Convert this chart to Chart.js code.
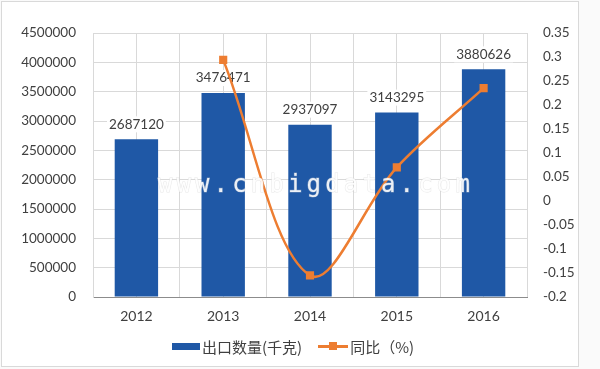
<!DOCTYPE html>
<html lang="zh">
<head>
  <meta charset="UTF-8">
  <title>出口数量及同比</title>
  <script src="https://cdn.jsdelivr.net/npm/chart.js"></script>
  <style>
    body {
      margin: 0;
      padding: 0;
      background-color: #fafafa;
    }
    .wrap {
      position: relative;
      width: 600px;
      height: 369px;
    }
    .frame {
      position: absolute;
      left: 1px;
      top: 1px;
      width: 576px;
      height: 364px;
      border: 1px solid #d9d9d9;
      background: #fff;
    }
    canvas {
      position: absolute;
      left: 0;
      top: 0;
    }
    /* legend under the plot */
    .legend {
      position: absolute;
      top: 336px;
      left: 172px;
      display: flex;
      align-items: center;
      font-family: "Noto Sans CJK SC", sans-serif;
      font-size: 15px;
      color: #404040;
      height: 20px;
    }
    .swatch-bar {
      width: 28px;
      height: 7px;
      background: #1f58a6;
      margin-right: 2px;
    }
    .swatch-line {
      position: relative;
      width: 30px;
      height: 3px;
      background: #ed7d31;
      margin-left: 16px;
      margin-right: 2px;
    }
    .swatch-line span {
      position: absolute;
      left: 11px;
      top: -3px;
      width: 8px;
      height: 8px;
      background: #ed7d31;
    }
  </style>
</head>
<body>
  <div class="wrap">
    <div class="frame"></div>
    <canvas id="chart" width="600" height="369"></canvas>
    <div class="legend">
      <div class="swatch-bar"></div><span>出口数量(千克)</span>
      <div class="swatch-line"><span></span></div><span>同比（%)</span>
    </div>
  </div>

  <script>
    const years = ['2012', '2013', '2014', '2015', '2016'];
    const exportQty = [2687120, 3476471, 2937097, 3143295, 3880626];
    const yoy = [null, 0.294, -0.155, 0.070, 0.235];
    const watermark = 'www.cnbigdata.com';

    const numFont = 'Lato, "Noto Sans CJK SC", sans-serif';
    const textColor = '#404040';
    const gridColor = '#d9d9d9';

    // value labels above the bars
    const barLabels = {
      id: 'barLabels',
      afterDatasetDraw(chart, args) {
        if (args.index !== 0) return;
        const c = chart.ctx;
        c.save();
        c.font = '13.5px ' + numFont;
        c.textAlign = 'center';
        c.textBaseline = 'middle';
        args.meta.data.forEach((bar, i) => {
          const txt = String(exportQty[i]);
          const w = c.measureText(txt).width;
          const y = bar.y - 15;
          c.fillStyle = '#fff';
          c.fillRect(bar.x - w / 2 - 2, y - 8, w + 4, 16);
          c.fillStyle = textColor;
          c.fillText(txt, bar.x, y);
        });
        c.restore();
      }
    };

    // site watermark across the middle
    const stamp = {
      id: 'stamp',
      afterDatasetsDraw(chart) {
        const c = chart.ctx;
        c.save();
        c.font = '24px "DejaVu Sans Mono", monospace';
        c.textAlign = 'center';
        c.textBaseline = 'middle';
        c.lineWidth = 1;
        for (let i = 0; i < watermark.length; i++) {
          const x = 165 + i * 18.6;
          c.strokeStyle = 'rgba(205,205,205,0.45)';
          c.strokeText(watermark[i], x, 186);
          c.fillStyle = 'rgba(255,255,255,0.9)';
          c.fillText(watermark[i], x, 186);
        }
        c.restore();
      }
    };

    const ctx = document.getElementById('chart').getContext('2d');

    new Chart(ctx, {
      data: {
        labels: years,
        datasets: [{
          type: 'bar',
          label: '出口数量(千克)',
          data: exportQty,
          backgroundColor: '#1f58a6',
          categoryPercentage: 1,
          barPercentage: 0.5,
          yAxisID: 'y',
          order: 1
        }, {
          type: 'line',
          label: '同比（%)',
          data: yoy,
          borderColor: '#ed7d31',
          backgroundColor: '#ed7d31',
          borderWidth: 2.5,
          pointStyle: 'rect',
          pointRadius: 4,
          tension: 0.35,
          spanGaps: true,
          yAxisID: 'y1',
          order: 0
        }]
      },
      options: {
        responsive: false,
        animation: false,
        layout: {
          padding: { left: 0, right: 0, top: 33, bottom: 42 }
        },
        plugins: {
          legend: { display: false },
          tooltip: { enabled: false }
        },
        scales: {
          x: {
            position: 'bottom',
            offset: true,
            grid: { color: gridColor, offset: true, drawTicks: false },
            border: { color: '#8c8c8c' },
            ticks: {
              color: textColor,
              font: { family: numFont, size: 14 },
              padding: 11
            },
            afterFit(scale) { scale.height = 30; }
          },
          x2: {
            type: 'category',
            position: 'bottom',
            offset: true,
            grid: { color: gridColor, offset: false, drawTicks: false },
            border: { display: false },
            ticks: { display: false },
            afterFit(scale) { scale.height = 0; }
          },
          y: {
            position: 'left',
            min: 0,
            max: 4500000,
            ticks: {
              stepSize: 500000,
              color: textColor,
              font: { family: numFont, size: 13.5 },
              padding: 17,
              callback: v => String(v)
            },
            grid: { color: gridColor, drawTicks: false },
            border: { color: gridColor },
            afterFit(scale) { scale.width = 93; }
          },
          y1: {
            position: 'right',
            min: -0.2,
            max: 0.35,
            ticks: {
              stepSize: 0.05,
              color: textColor,
              font: { family: numFont, size: 13.5 },
              padding: 16,
              callback: v => String(parseFloat(v.toFixed(2)))
            },
            grid: { display: false, drawTicks: false },
            border: { display: false },
            afterFit(scale) { scale.width = 73; }
          }
        }
      },
      plugins: [barLabels, stamp]
    });
  </script>
</body>
</html>
